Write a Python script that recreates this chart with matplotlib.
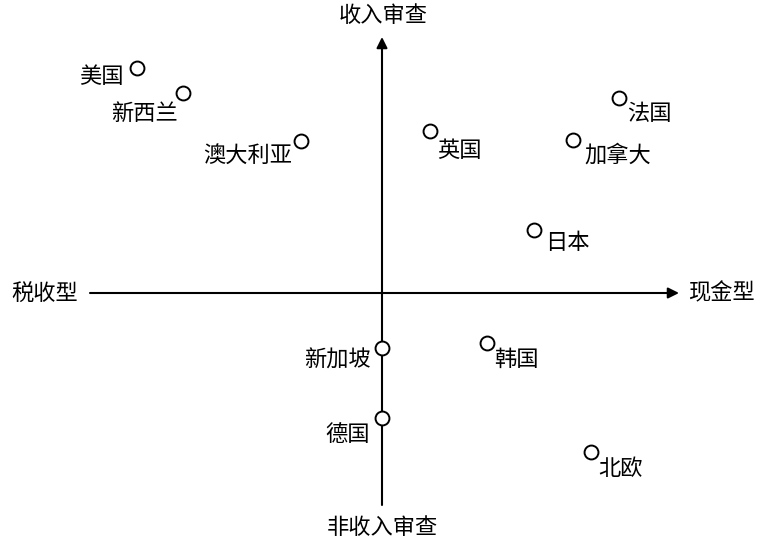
import matplotlib
matplotlib.use("Agg")
import matplotlib.pyplot as plt

plt.rcParams['font.family'] = ['Noto Sans CJK SC', 'DejaVu Sans']

# country positions on the two axes (income-tested vs cash/tax type)
countries = ["美国", "新西兰", "澳大利亚", "英国", "法国", "加拿大",
             "日本", "新加坡", "韩国", "德国", "北欧"]
x_vals = [-2.45, -1.99, -0.81, 0.48, 2.37, 1.91, 1.52, 0.00, 1.05, 0.00, 2.09]
y_vals = [2.25, 2.00, 1.52, 1.62, 1.95, 1.53, 0.63, -0.55, -0.50, -1.25, -1.59]

# label offsets in points, and which side the text sits on
offsets = [(-10, -6), (-4, -15), (-6, -10), (5, -14), (6, -11), (8, -11),
           (8, -9), (-8, -9), (5, -12), (-9, -12), (5, -12)]
sides = ["right", "right", "right", "left", "left", "left",
         "left", "right", "left", "right", "left"]

axis_labels = {"top": "收入审查", "bottom": "非收入审查",
               "left": "税收型", "right": "现金型"}

fig = plt.figure(figsize=(7.65, 5.43), dpi=100)
ax = fig.add_axes([0, 0, 1, 1])
ax.set_xlim(-3.82, 3.83)
ax.set_ylim(-2.50, 2.93)
ax.axis('off')

arrow = dict(arrowstyle='-|>', color='black', lw=1.5, mutation_scale=16,
             shrinkA=0, shrinkB=0)
ax.annotate("", xy=(2.97, 0), xytext=(-2.92, 0), arrowprops=arrow)
ax.annotate("", xy=(0, 2.56), xytext=(0, -2.12), arrowprops=arrow)

ax.plot(x_vals, y_vals, 'o', ms=10, mfc='white', mec='black', mew=1.4,
        linestyle='none', zorder=3)

for name, x, y, off, ha in zip(countries, x_vals, y_vals, offsets, sides):
    ax.annotate(name, (x, y), xytext=off, textcoords='offset points',
                ha=ha, va='center', fontsize=16)

ax.text(0.01, 2.77, axis_labels["top"], ha='center', va='center', fontsize=16)
ax.text(0.0, -2.34, axis_labels["bottom"], ha='center', va='center', fontsize=16)
ax.text(-3.37, 0.0, axis_labels["left"], ha='center', va='center', fontsize=16)
ax.text(3.39, 0.0, axis_labels["right"], ha='center', va='center', fontsize=16)

fig.savefig("out.png", dpi=100)
